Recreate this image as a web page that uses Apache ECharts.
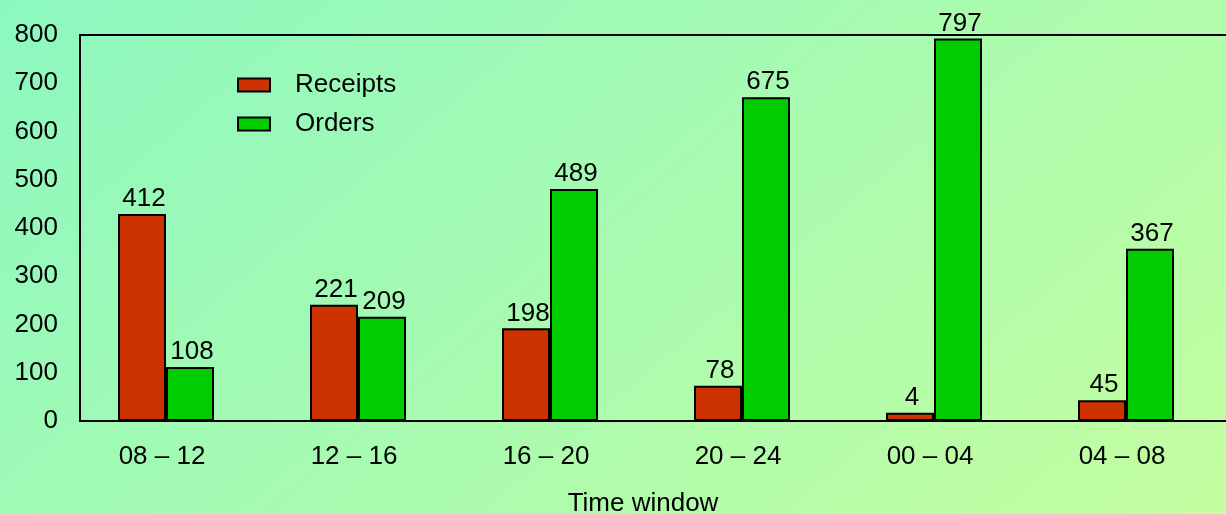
<!DOCTYPE html>
<html>
<head>
<meta charset="utf-8">
<script src="https://cdn.jsdelivr.net/npm/echarts@6/dist/echarts.min.js"></script>
<style>
  html, body { margin: 0; padding: 0; }
  #chart { width: 1226px; height: 514px; }
</style>
</head>
<body>
<div id="chart"></div>
<script>
// time windows along the x axis
const windows = ['08 \u2013 12', '12 \u2013 16', '16 \u2013 20', '20 \u2013 24', '00 \u2013 04', '04 \u2013 08']

// bar heights as drawn in the picture
const receipts = [429, 241, 192, 73, 17, 43]
const orders = [112, 216, 481, 671, 793, 357]

// numbers printed above the bars
const receiptLabels = [412, 221, 198, 78, 4, 45]
const orderLabels = [108, 209, 489, 675, 797, 367]

const yMax = 800
const yStep = 100

const font = "'Liberation Sans', Arial, sans-serif"
const ink = '#000'
const fs = 26

const chart = echarts.init(document.getElementById('chart'))

function barLabel(texts) {
  return {
    show: true,
    position: 'top',
    distance: 2,
    color: ink,
    fontFamily: font,
    fontSize: fs,
    padding: [0, 0, 0, 4],
    formatter: (p) => String(texts[p.dataIndex])
  }
}

chart.setOption({
  animation: false,
  backgroundColor: new echarts.graphic.LinearGradient(0, 0, 0.62, 1.76, [
    { offset: 0, color: '#8cf8c0' },
    { offset: 1, color: '#c4fea0' }
  ]),
  textStyle: { fontFamily: font },
  legend: {
    orient: 'vertical',
    left: 232,
    top: 67,
    itemWidth: 32,
    itemHeight: 13,
    itemGap: 13,
    icon: 'rect',
    textStyle: { color: ink, fontFamily: font, fontSize: fs, padding: [0, 0, 0, 20] },
    data: ['Receipts', 'Orders']
  },
  grid: [
    // bars
    { left: 70, width: 1152, top: 35, height: 386, outerBoundsMode: 'none', containLabel: false },
    // frame
    { left: 80, width: 1160, top: 35, height: 386, outerBoundsMode: 'none', containLabel: false,
      show: true, borderColor: ink, borderWidth: 2, backgroundColor: 'transparent' }
  ],
  xAxis: [
    {
      type: 'category',
      gridIndex: 0,
      data: windows,
      axisLine: { show: false },
      axisTick: { show: false },
      axisLabel: { color: ink, fontFamily: font, fontSize: fs, margin: 23, padding: [0, 8, 0, 0] },
      name: 'Time window',
      nameLocation: 'middle',
      nameGap: 70,
      nameTextStyle: { color: ink, fontFamily: font, fontSize: fs, padding: [0, 6, 0, 0] }
    },
    { type: 'value', gridIndex: 1, min: 0, max: 1, show: false }
  ],
  yAxis: [
    { type: 'value', gridIndex: 0, min: 0, max: yMax, show: false },
    {
      type: 'value',
      gridIndex: 1,
      min: 0,
      max: yMax,
      interval: yStep,
      axisLine: { show: false },
      axisTick: { show: false },
      splitLine: { show: false },
      axisLabel: { color: ink, fontFamily: font, fontSize: fs, margin: 22 }
    }
  ],
  series: [
    {
      name: 'Receipts',
      type: 'bar',
      xAxisIndex: 0,
      yAxisIndex: 0,
      barWidth: 48,
      barGap: '0%',
      data: receipts,
      itemStyle: { color: '#cc3300', borderColor: ink, borderWidth: 2 },
      label: barLabel(receiptLabels)
    },
    {
      name: 'Orders',
      type: 'bar',
      xAxisIndex: 0,
      yAxisIndex: 0,
      barWidth: 48,
      barGap: '0%',
      data: orders,
      itemStyle: { color: '#00cc00', borderColor: ink, borderWidth: 2 },
      label: barLabel(orderLabels)
    }
  ]
})
</script>
</body>
</html>
